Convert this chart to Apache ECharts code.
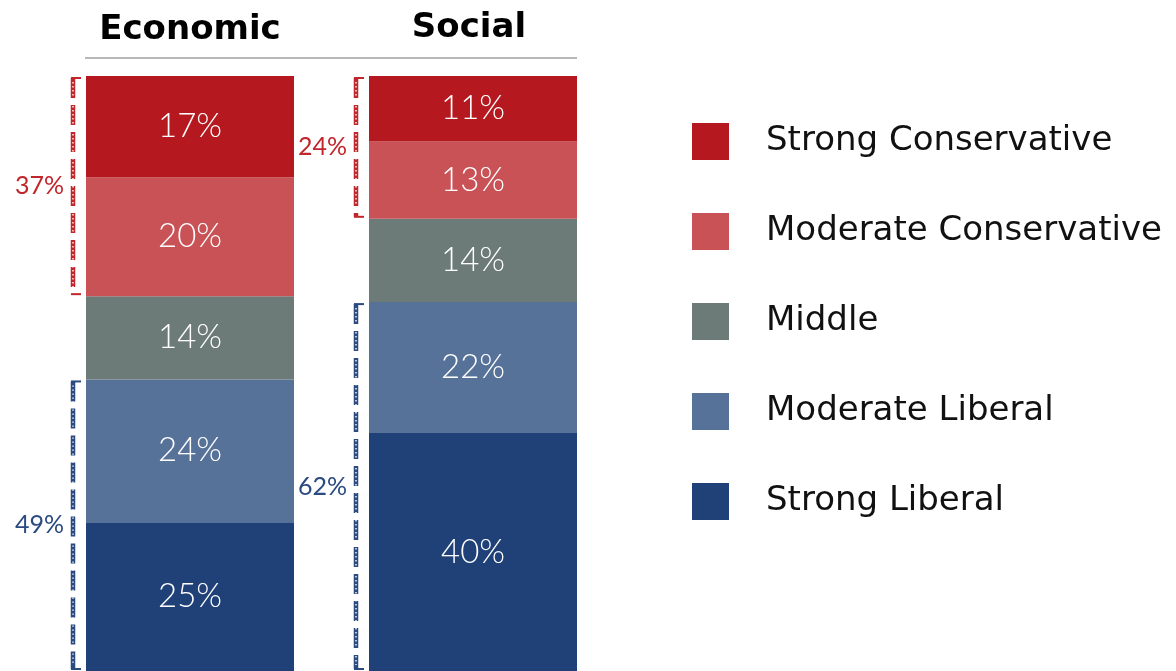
<!DOCTYPE html>
<html>
<head>
<meta charset="utf-8">
<script src="https://cdn.jsdelivr.net/npm/echarts@6/dist/echarts.min.js"></script>
<style>
  html, body { margin: 0; padding: 0; background: #fff; }
  #chart { width: 1176px; height: 671px; }
</style>
</head>
<body>
<div id="chart"></div>
<script>
// categories (one stacked bar each)
const categories = ['Economic', 'Social'];

// series values in percent, bottom of the stack first
const strongLiberal = [25, 40];
const moderateLiberal = [24, 22];
const middle = [14, 14];
const moderateConservative = [20, 13];
const strongConservative = [17, 11];

// legend order, top to bottom
const legendOrder = ['Strong Conservative', 'Moderate Conservative', 'Middle', 'Moderate Liberal', 'Strong Liberal'];

const FONT = '"DejaVu Sans", sans-serif';
const NUM_FONT = 'Lato, "DejaVu Sans", sans-serif';
const BAR_W = 208;

const colors = {
  'Strong Liberal': '#1f4178',
  'Moderate Liberal': '#577299',
  'Middle': '#6c7a78',
  'Moderate Conservative': '#c85256',
  'Strong Conservative': '#b5191f'
};

const stackSeries = [
  ['Strong Liberal', strongLiberal],
  ['Moderate Liberal', moderateLiberal],
  ['Middle', middle],
  ['Moderate Conservative', moderateConservative],
  ['Strong Conservative', strongConservative]
].map(([name, data]) => ({
  name,
  type: 'bar',
  stack: 'total',
  barWidth: BAR_W,
  itemStyle: { color: colors[name] },
  label: {
    show: true,
    position: 'inside',
    formatter: '{c}%',
    color: '#fff',
    fontSize: 33,
    fontWeight: 300,
    fontFamily: NUM_FONT
  },
  emphasis: { disabled: true },
  data
}));

// bracket groups built from the series arrays: [category, from, to, total]
const bracketData = categories.map((c, i) => {
  const cons = strongConservative[i] + moderateConservative[i];
  return [i, 100 - cons, 100, cons, 'c'];
}).concat(categories.map((c, i) => {
  const lib = strongLiberal[i] + moderateLiberal[i];
  return [i, 0, lib, lib, 'l'];
}));

function renderBracket(params, api) {
  const cat = api.value(0);
  const top = api.coord([cat, api.value(2)]);
  const bot = api.coord([cat, api.value(1)]);
  const isCons = bracketData[params.dataIndex][4] === 'c';
  const col = isCons ? '#c0272d' : '#2b4a80';
  const x = top[0] - BAR_W / 2 - 13;
  const y1 = top[1] + 2;
  const y2 = bot[1] - 2;
  return {
    type: 'group',
    children: [
      { type: 'line', shape: { x1: x, y1: y1, x2: x, y2: y2 },
        style: { stroke: col, lineWidth: 4.5, lineDash: [20, 7] } },
      { type: 'line', shape: { x1: x, y1: y1 + 4, x2: x, y2: y2 - 4 },
        style: { stroke: '#fff', lineWidth: 1.4, lineDash: [1.4, 2.6] } },
      { type: 'line', shape: { x1: x - 2, y1: y1, x2: x + 8, y2: y1 },
        style: { stroke: col, lineWidth: 2 } },
      { type: 'line', shape: { x1: x - 2, y1: y2, x2: x + 8, y2: y2 },
        style: { stroke: col, lineWidth: 2 } },
      { type: 'text', x: x - 9, y: (y1 + y2) / 2,
        style: { text: api.value(3) + '%', fill: col, fontSize: 25, fontWeight: 400,
          fontFamily: NUM_FONT, align: 'right', verticalAlign: 'middle' } }
    ]
  };
}

const chart = echarts.init(document.getElementById('chart'));
chart.setOption({
  animation: false,
  grid: { left: 48.5, right: 561.5, top: 76, bottom: 0 },
  xAxis: { type: 'category', data: categories, show: false },
  yAxis: { type: 'value', min: 0, max: 100, show: false },
  legend: {
    data: legendOrder,
    orient: 'vertical',
    left: 692,
    top: 123,
    padding: 0,
    icon: 'rect',
    itemWidth: 37,
    itemHeight: 37,
    itemGap: 53,
    selectedMode: false,
    textStyle: { fontSize: 34, color: '#111', fontFamily: FONT, padding: [0, 0, 0, 32] }
  },
  graphic: [
    { type: 'line', shape: { x1: 85, y1: 58, x2: 577, y2: 58 },
      style: { stroke: '#b8b8b8', lineWidth: 2 } },
    { type: 'text', x: 190, y: 30,
      style: { text: categories[0], fontSize: 34, fontWeight: 'bold', fontFamily: FONT,
        fill: '#000', align: 'center', verticalAlign: 'middle' } },
    { type: 'text', x: 469, y: 28,
      style: { text: categories[1], fontSize: 34, fontWeight: 'bold', fontFamily: FONT,
        fill: '#000', align: 'center', verticalAlign: 'middle' } }
  ],
  series: stackSeries.concat([{
    type: 'custom',
    renderItem: renderBracket,
    data: bracketData,
    silent: true,
    z: 5
  }])
});
</script>
</body>
</html>
